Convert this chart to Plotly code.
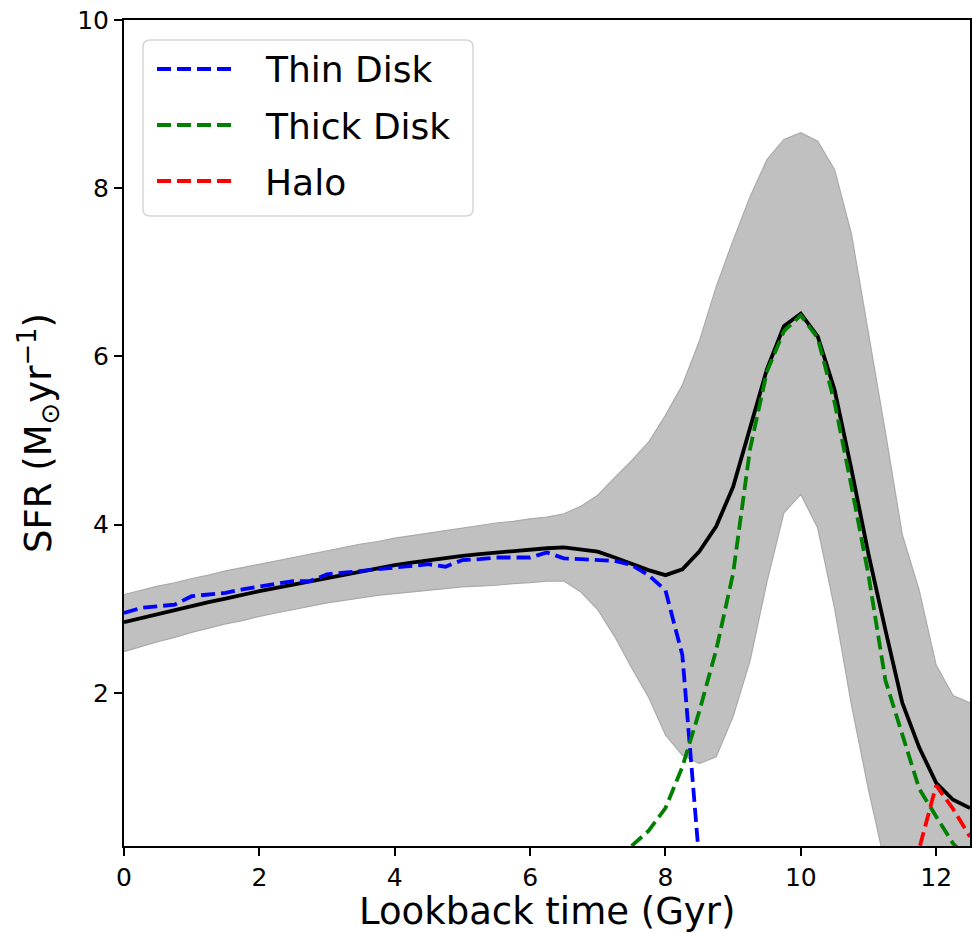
import plotly.graph_objects as go

# Lookback time grid (Gyr)
time_gyr = [i * 0.25 for i in range(51)]

sfr_median = [2.84, 2.89, 2.94, 2.99, 3.03, 3.08, 3.12, 3.17, 3.21, 3.25,
              3.29, 3.33, 3.37, 3.41, 3.45, 3.48, 3.52, 3.55, 3.58, 3.60,
              3.63, 3.65, 3.67, 3.69, 3.71, 3.72, 3.73, 3.71, 3.68, 3.61,
              3.53, 3.46, 3.40, 3.47, 3.68, 3.98, 4.45, 5.15, 5.85, 6.36,
              6.51, 6.24, 5.60, 4.65, 3.65, 2.75, 1.88, 1.35, 0.93, 0.73,
              0.63]

sfr_upper = [3.17, 3.22, 3.27, 3.31, 3.36, 3.40, 3.45, 3.49, 3.53, 3.57,
             3.61, 3.65, 3.69, 3.73, 3.77, 3.80, 3.84, 3.87, 3.90, 3.93,
             3.96, 3.99, 4.02, 4.04, 4.07, 4.09, 4.13, 4.22, 4.35, 4.56,
             4.76, 4.98, 5.30, 5.66, 6.18, 6.83, 7.38, 7.90, 8.34, 8.58,
             8.66, 8.56, 8.22, 7.45, 6.30, 5.10, 3.88, 3.22, 2.33, 1.97,
             1.88]

sfr_lower = [2.49, 2.55, 2.61, 2.66, 2.72, 2.77, 2.82, 2.86, 2.91, 2.95,
             2.99, 3.03, 3.07, 3.10, 3.13, 3.16, 3.18, 3.20, 3.22, 3.24,
             3.26, 3.27, 3.28, 3.30, 3.31, 3.33, 3.33, 3.20, 2.99, 2.67,
             2.30, 1.95, 1.50, 1.26, 1.16, 1.24, 1.72, 2.38, 3.32, 4.14,
             4.36, 3.96, 3.00, 1.85, 0.85, -0.05, -0.60, -0.80, -0.60, -0.50,
             -0.50]

# Thin disk: defined up to 8.5 Gyr
thin_time = time_gyr[:35]
thin_disk = [2.95, 3.01, 3.03, 3.05, 3.15, 3.17, 3.19, 3.23, 3.26, 3.30,
             3.33, 3.33, 3.41, 3.43, 3.45, 3.48, 3.50, 3.52, 3.53, 3.50,
             3.58, 3.59, 3.61, 3.61, 3.61, 3.67, 3.60, 3.59, 3.58, 3.57,
             3.52, 3.40, 3.22, 2.45, 0.00]

# Thick disk: from 7.25 Gyr
thick_time = time_gyr[29:]
thick_disk = [0.05, 0.18, 0.36, 0.63, 1.12, 1.78, 2.51, 3.42, 4.90, 5.82,
              6.30, 6.49, 6.22, 5.45, 4.45, 3.40, 2.15, 1.50, 0.86, 0.53,
              0.21, 0.00]

# Halo: from 11.5 Gyr
halo_time = time_gyr[46:]
halo = [0.12, 0.15, 0.90, 0.62, 0.29]

x_ticks = [0, 2, 4, 6, 8, 10, 12]
y_ticks = [2, 4, 6, 8, 10]

x_label = "Lookback time (Gyr)"
y_label = "SFR (M<sub>⊙</sub>yr<sup>−1</sup>)"
legend_names = ["Thin Disk", "Thick Disk", "Halo"]
legend_colors = ["blue", "green", "red"]

FONT = "DejaVu Sans"
LW = 3.8
DASH = "14px,6px"

fig = go.Figure()

fig.add_trace(go.Scatter(x=time_gyr, y=sfr_lower, mode="lines",
                         line=dict(color="rgb(170,170,170)", width=1.2),
                         showlegend=False, hoverinfo="skip"))
fig.add_trace(go.Scatter(x=time_gyr, y=sfr_upper, mode="lines",
                         line=dict(color="rgb(170,170,170)", width=1.2),
                         fill="tonexty", fillcolor="rgb(192,192,192)",
                         showlegend=False, hoverinfo="skip"))
fig.add_trace(go.Scatter(x=time_gyr, y=sfr_median, mode="lines",
                         line=dict(color="black", width=LW),
                         showlegend=False))

for xs, ys, name, col in [(thin_time, thin_disk, legend_names[0], legend_colors[0]),
                          (thick_time, thick_disk, legend_names[1], legend_colors[1]),
                          (halo_time, halo, legend_names[2], legend_colors[2])]:
    fig.add_trace(go.Scatter(x=xs, y=ys, mode="lines", name=name,
                             line=dict(color=col, width=LW, dash=DASH),
                             showlegend=False))

axis_common = dict(showline=True, linecolor="black", linewidth=2, mirror=True,
                   ticks="outside", ticklen=8, tickwidth=1.5, tickcolor="black",
                   showgrid=False, zeroline=False, automargin=False,
                   tickfont=dict(family=FONT, size=25, color="black"))

fig.update_xaxes(range=[0, 12.5], tickvals=x_ticks, **axis_common)
fig.update_yaxes(range=[0.18, 10], tickvals=y_ticks, **axis_common,
                 title=dict(text=y_label,
                            font=dict(family=FONT, size=37, color="black"),
                            standoff=14))

# Pixel-derived paper coordinates (plot area 846 x 826)
PW, PH, L0, B0 = 846, 826, 124, 846
def px(xp):
    return (xp - L0) / PW
def py(yp):
    return (B0 - yp) / PH

# X-axis title
fig.add_annotation(text=x_label, xref="paper", yref="paper",
                   x=0.5, y=py(911), xanchor="center", yanchor="middle",
                   showarrow=False,
                   font=dict(family=FONT, size=37, color="black"))

# Legend
x0, x1 = px(143), px(473)
y1, y0 = py(40), py(216)
rx, ry = 7 / PW, 7 / PH
path = (f"M{x0+rx},{y0} L{x1-rx},{y0} Q{x1},{y0} {x1},{y0+ry} "
        f"L{x1},{y1-ry} Q{x1},{y1} {x1-rx},{y1} L{x0+rx},{y1} "
        f"Q{x0},{y1} {x0},{y1-ry} L{x0},{y0+ry} Q{x0},{y0} {x0+rx},{y0} Z")
fig.add_shape(type="path", path=path, xref="paper", yref="paper",
              line=dict(color="rgb(214,214,214)", width=1.5),
              fillcolor="rgba(255,255,255,0.8)", layer="above")

for i, (name, col) in enumerate(zip(legend_names, legend_colors)):
    yc = 69 + 56 * i
    fig.add_shape(type="line", xref="paper", yref="paper",
                  x0=px(157), x1=px(232), y0=py(yc), y1=py(yc),
                  line=dict(color=col, width=LW, dash=DASH), layer="above")
    fig.add_annotation(text=name, xref="paper", yref="paper",
                       x=px(263), y=py(yc + 1), xanchor="left", yanchor="middle",
                       showarrow=False,
                       font=dict(family=FONT, size=36, color="black"))

fig.update_layout(
    width=972, height=933,
    margin=dict(l=124, r=2, t=20, b=87),
    paper_bgcolor="white", plot_bgcolor="white",
    font=dict(family=FONT, color="black"),
    showlegend=False,
)

fig.write_html("out.html")
